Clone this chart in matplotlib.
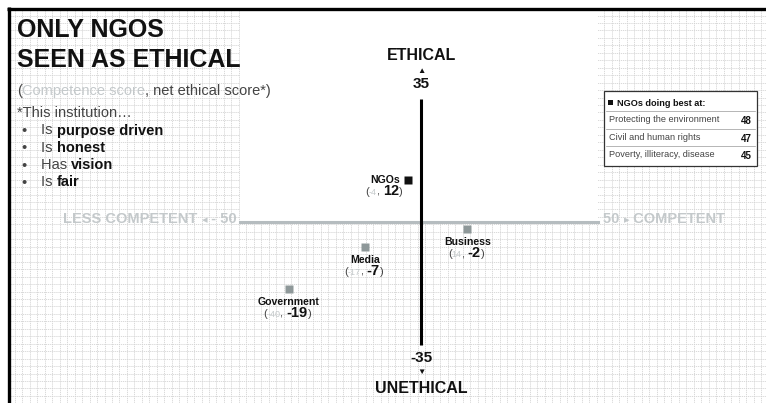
import matplotlib
matplotlib.use("Agg")
import matplotlib.pyplot as plt
from matplotlib.patches import Rectangle
from matplotlib.offsetbox import TextArea, HPacker, AnnotationBbox

plt.rcParams['font.family'] = ['Liberation Sans', 'DejaVu Sans']

# data
institutions = ["NGOs", "Business", "Media", "Government"]
competence = [-4, 14, -17, -40]
ethical = [12, -2, -7, -19]
competence_lim = 50
ethical_lim = 35

best_at = ["Protecting the environment", "Civil and human rights", "Poverty, illiteracy, disease"]
best_scores = [48, 47, 45]

bullets = [("Is ", "purpose driven"), ("Is ", "honest"), ("Has ", "vision"), ("Is ", "fair")]

DARK = "#111111"
MID = "#444444"
LIGHT = "#c4c9cb"
MARK = "#8e9899"

W, H = 766, 403
fig = plt.figure(figsize=(W / 100, H / 100), dpi=100)

# background axes in pixel coordinates
bg = fig.add_axes([0, 0, 1, 1])
bg.set_xlim(0, W)
bg.set_ylim(H, 0)
bg.axis("off")

gx = 15
while gx < W:
    bg.plot([gx, gx], [10, H], color="#d3d3d3", lw=0.6, ls=(0, (1.5, 1)), zorder=0)
    gx += 7.46
gy = 15.5
while gy < H:
    bg.plot([10, W], [gy, gy], color="#d3d3d3", lw=0.6, ls=(0, (1.5, 1)), zorder=0)
    gy += 7.46

# white panel (upper middle)
bg.add_patch(Rectangle((240, 10), 358, 212, facecolor="white", edgecolor="none", zorder=1))
# frame on left and top
bg.plot([8.5, 8.5], [7, H], color="black", lw=2.4, zorder=5, solid_capstyle="butt")
bg.plot([7, W], [8.5, 8.5], color="black", lw=2.4, zorder=5, solid_capstyle="butt")


def rich(ax, xy, parts, align=(0, 0), coords="data", offset=(0, 0)):
    areas = [TextArea(s, textprops=p) for s, p in parts]
    box = HPacker(children=areas, align="baseline", pad=0, sep=0)
    ab = AnnotationBbox(box, xy, xycoords=coords, xybox=offset, boxcoords="offset points",
                        box_alignment=align, frameon=False, pad=0, zorder=6)
    ax.add_artist(ab)


# title block
bg.text(17, 37, "ONLY NGOS", fontsize=18, fontweight="bold", color=DARK, va="baseline", zorder=6)
bg.text(17, 67, "SEEN AS ETHICAL", fontsize=18, fontweight="bold", color=DARK, va="baseline", zorder=6)
rich(bg, (17, 98), [("(", dict(fontsize=10.5, color=MID)),
                     ("Competence score", dict(fontsize=10.5, color=LIGHT)),
                     (", net ethical score*)", dict(fontsize=10.5, color=MID))], align=(0, 0))
bg.text(17, 117, "*This institution\u2026", fontsize=10.5, color=MID, va="baseline", zorder=6)
for i, (a, b) in enumerate(bullets):
    yb = 135 + i * 17.3
    bg.text(21, yb, "\u2022", fontsize=10.5, color=MID, va="baseline", zorder=6)
    rich(bg, (41, yb + 2.5), [(a, dict(fontsize=10.5, color=MID)),
                              (b, dict(fontsize=10.5, color=DARK, fontweight="bold"))], align=(0, 0))

# NGOs doing best at box
bg.add_patch(Rectangle((604, 91), 153, 75, facecolor="white", edgecolor="#333333", lw=0.9, zorder=3))
bg.add_patch(Rectangle((608, 100), 5, 5, facecolor=DARK, edgecolor="none", zorder=4))
bg.text(617, 105.5, "NGOs doing best at:", fontsize=6.6, fontweight="bold", color=DARK, va="baseline", zorder=6)
for i, (lab, val) in enumerate(zip(best_at, best_scores)):
    ysep = 111 + i * 17.5
    bg.plot([606, 755], [ysep, ysep], color="#999999", lw=0.5, zorder=4)
    bg.text(609, ysep + 11, lab, fontsize=6.6, color=MID, va="baseline", zorder=6)
    bg.text(752, ysep + 13, str(val), fontsize=7, fontweight="bold", color=DARK, va="baseline", ha="right", zorder=6)

# data axes: x 3.31 px/unit with zero at 421, y 3.52 px/unit with zero at 222
ax = fig.add_axes([0, 0, 1, 1])
ax.patch.set_alpha(0)
ax.axis("off")
ax.set_xlim(-421 / 3.31, (W - 421) / 3.31)
ax.set_ylim(-(H - 222) / 3.52, 222 / 3.52)

ax.axhline(0, xmin=240 / W, xmax=598 / W, color="#b5bcbf", lw=2.2, zorder=2)
ax.plot([0, 0], [-ethical_lim, ethical_lim], color="black", lw=2.2, zorder=3, solid_capstyle="butt")

# axis end labels
rich(ax, (0, 0), [("LESS COMPETENT ", dict(fontsize=10.5, fontweight="bold", color=LIGHT)),
                  ("\u25c2", dict(fontsize=8, color=LIGHT)),
                  (" - %d" % competence_lim, dict(fontsize=10.5, fontweight="bold", color=LIGHT))],
     align=(1, 0), offset=(-(421 - 237) * 0.72, -4.3 * 0.72))
rich(ax, (0, 0), [("%d " % competence_lim, dict(fontsize=10.5, fontweight="bold", color=LIGHT)),
                  ("\u25b8", dict(fontsize=8, color=LIGHT)),
                  (" COMPETENT", dict(fontsize=10.5, fontweight="bold", color=LIGHT))],
     align=(0, 0), offset=((603 - 421) * 0.72, -4.3 * 0.72))

ax.annotate("ETHICAL", (0, ethical_lim), xytext=(0, 39), textcoords="offset pixels",
            ha="center", va="baseline", fontsize=11.5, fontweight="bold", color=DARK)
ax.annotate("\u25b2", (0, ethical_lim), xytext=(0, 26), textcoords="offset pixels",
            ha="center", va="baseline", fontsize=6, color=DARK)
ax.annotate(str(ethical_lim), (0, ethical_lim), xytext=(0, 11), textcoords="offset pixels",
            ha="center", va="baseline", fontsize=11, fontweight="bold", color=DARK)
ax.annotate(str(-ethical_lim), (0, -ethical_lim), xytext=(0, -17), textcoords="offset pixels",
            ha="center", va="baseline", fontsize=11, fontweight="bold", color=DARK)
ax.annotate("\u25bc", (0, -ethical_lim), xytext=(0, -29), textcoords="offset pixels",
            ha="center", va="baseline", fontsize=6, color=DARK)
ax.annotate("UNETHICAL", (0, -ethical_lim), xytext=(0, -48), textcoords="offset pixels",
            ha="center", va="baseline", fontsize=11.5, fontweight="bold", color=DARK)

# points
for name, cx, ey in zip(institutions, competence, ethical):
    is_ngo = name == "NGOs"
    ax.plot(cx, ey, marker="s", ms=5.3, color=DARK if is_ngo else MARK, mec="none", zorder=5)
    parts = [("(", dict(fontsize=8, color=MID)),
             (str(cx), dict(fontsize=6.5, color=LIGHT)),
             (", ", dict(fontsize=8, color=MID)),
             (str(ey), dict(fontsize=10.5, fontweight="bold", color=DARK)),
             (")", dict(fontsize=8, color=MID))]
    if is_ngo:
        ax.annotate(name, (cx, ey), xytext=(-8, -3), textcoords="offset pixels",
                    ha="right", va="baseline", fontsize=7.6, fontweight="bold", color=DARK)
        rich(ax, (cx, ey), parts, align=(0.5, 0), offset=(-24 * 0.72, -18 * 0.72))
    else:
        ax.annotate(name, (cx, ey), xytext=(0, -16), textcoords="offset pixels",
                    ha="center", va="baseline", fontsize=7.6, fontweight="bold", color=DARK)
        rich(ax, (cx, ey), parts, align=(0.5, 0), offset=(-1 * 0.72, -31 * 0.72))

fig.savefig("out.png", dpi=100)
